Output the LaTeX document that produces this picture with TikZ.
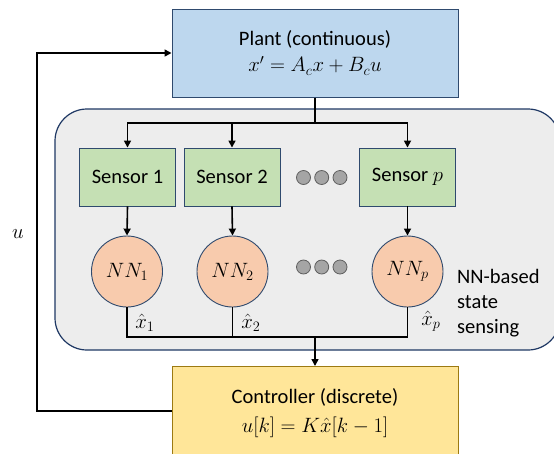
\documentclass[tikz,border=0pt]{standalone}
\usepackage{fontspec}
\setmainfont{Carlito}
\usetikzlibrary{arrows.meta}
\definecolor{plantfill}{HTML}{BDD7EE}
\definecolor{sensfill}{HTML}{C5E0B4}
\definecolor{nnfill}{HTML}{F8CBAD}
\definecolor{ctrlfill}{HTML}{FFE699}
\definecolor{ctrlline}{HTML}{9C7A12}
\definecolor{grpfill}{HTML}{EDEDED}
\definecolor{darkline}{HTML}{2F4A6E}
\definecolor{grpline}{HTML}{1F3864}
\definecolor{dotfill}{HTML}{A5A5A5}
\definecolor{dotline}{HTML}{5F5F5F}
\begin{document}
\begin{tikzpicture}[x=1pt,y=-1pt,
  font=\fontsize{20.5}{25}\selectfont,
  bigbox/.style={draw=darkline, line width=1pt, minimum width=286pt, inner sep=0pt, align=center},
  sensbox/.style={draw=darkline, line width=0.9pt, fill=sensfill, minimum width=96pt, minimum height=58pt, inner sep=0pt},
  nncirc/.style={circle, draw=darkline, line width=0.9pt, fill=nnfill, minimum size=71pt, inner sep=0pt},
  dotc/.style={circle, draw=dotline, line width=0.8pt, fill=dotfill, minimum size=14pt, inner sep=0pt},
  conn/.style={line width=1.6pt, black},
  arr/.style={conn, -{Triangle[length=7pt,width=7pt]}},
  lbl/.style={inner sep=0pt}
]
\useasboundingbox (0,0) rectangle (554,453);
% group box
\node[draw=grpline, line width=1.2pt, fill=grpfill, rounded corners=32pt,
      minimum width=505pt, minimum height=241pt, inner sep=0pt] (grp) at (307.5,229.5) {};
% plant & controller
\node[bigbox, fill=plantfill, minimum height=88pt] (plant) at (315,53)
  {Plant (continuous)\\[1pt] $x' = A_c x + B_c u$};
\node[bigbox, draw=ctrlline, fill=ctrlfill, minimum height=94pt] (ctrl) at (315,413.5)
  {Controller (discrete)\\[4pt] $u[k] = K\hat{x}[k-1]$};
% sensors
\node[sensbox] (s1) at (127.5,177) {Sensor 1};
\node[sensbox] (s2) at (232,177) {Sensor 2};
\node[sensbox] (sp) at (407.5,177) {Sensor $p$};
\node[dotc] (d1) at (303.5,177.5) {};
\node[dotc] (d2) at (321.7,177.5) {};
\node[dotc] (d3) at (340,177.5) {};
% NNs
\node[nncirc] (n1) at (127,271.5) {$NN_1$};
\node[nncirc] (n2) at (232.5,271.5) {$NN_2$};
\node[nncirc] (np) at (407.5,271.5) {$NN_p$};
\node[dotc] (e1) at (303.5,267) {};
\node[dotc] (e2) at (321.7,267) {};
\node[dotc] (e3) at (340,267) {};
% junctions
\coordinate (top) at (315,123);
\coordinate (bot) at (315,337);
% plant to sensors
\draw[conn] (plant.south) -- (top);
\draw[arr] (top) -| (s1.north);
\draw[arr] (top) -| (s2.north);
\draw[arr] (top) -| (sp.north);
% sensors to NN
\draw[arr] (s1.south) -- (n1.north);
\draw[arr] (s2.south) -- (n2.north);
\draw[arr] (sp.south) -- (np.north);
% NN to controller
\draw[conn] (n1.south) |- (bot);
\draw[conn] (n2.south) |- (bot);
\draw[conn] (np.south) |- (bot);
\draw[arr] (bot) -- (ctrl.north);
% labels
\node[lbl] (l1) at (145,323) {$\hat{x}_1$};
\node[lbl] (l2) at (251,323) {$\hat{x}_2$};
\node[lbl] (lp) at (431,321) {$\hat{x}_p$};
\node[lbl, anchor=west, align=left] (txt) at (457,303) {NN-based\\state\\sensing};
% feedback
\coordinate (fb1) at (37,411);
\coordinate (fb2) at (37,53);
\draw[arr] (ctrl.west |- fb1) -- (fb1) -- (fb2) -- (plant.west);
\node[lbl] (u) at (18,234) {$u$};
\end{tikzpicture}
\end{document}
